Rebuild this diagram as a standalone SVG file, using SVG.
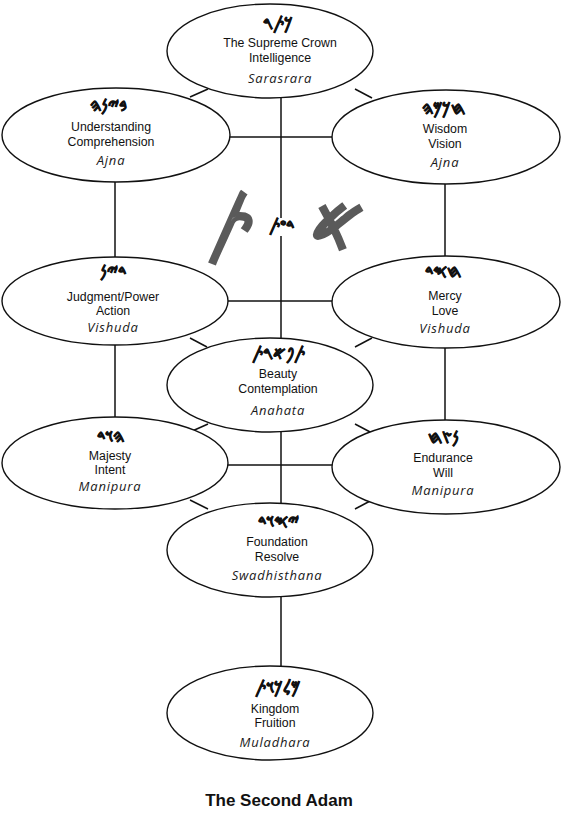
<svg xmlns="http://www.w3.org/2000/svg" width="565" height="816" viewBox="0 0 565 816">
<style>
.node ellipse{fill:#fff;stroke:#111;stroke-width:1.4}
.ph{font-family:"DejaVu Sans",sans-serif;font-size:17px;font-weight:bold;fill:#111;stroke:#111;stroke-width:0.7;text-anchor:middle}
.t{font-family:"Liberation Sans",Arial,sans-serif;font-size:12.3px;fill:#111;text-anchor:middle}
.c{font-family:"Open Sans","Lato",sans-serif;font-style:italic;font-weight:400;font-size:13px;fill:#1a1a1a;text-anchor:middle;letter-spacing:0.8px}
#connectors line{stroke:#111;stroke-width:1.5}
.big{font-family:"DejaVu Sans",sans-serif;font-size:72px;font-weight:bold;fill:#808080;stroke:#5a5a5a;stroke-width:2;text-anchor:middle}
.title{font-family:"Liberation Sans",Arial,sans-serif;font-size:17px;font-weight:bold;fill:#111;text-anchor:middle}
</style>
<rect width="565" height="816" fill="#fff"/>
<g id="connectors">
<line x1="190" y1="97" x2="208" y2="89"/>
<line x1="355" y1="89" x2="372" y2="98"/>
<line x1="228" y1="137" x2="335" y2="137"/>
<line x1="281" y1="96" x2="281" y2="218"/>
<line x1="281" y1="236" x2="281" y2="340"/>
<line x1="115" y1="180" x2="115" y2="259"/>
<line x1="445" y1="182" x2="445" y2="258"/>
<line x1="226" y1="301" x2="334" y2="301"/>
<line x1="190" y1="338" x2="207" y2="347"/>
<line x1="355" y1="347" x2="372" y2="338"/>
<line x1="115" y1="343" x2="115" y2="420"/>
<line x1="445" y1="346" x2="445" y2="422"/>
<line x1="190" y1="432" x2="208" y2="424"/>
<line x1="355" y1="424" x2="372" y2="433"/>
<line x1="226" y1="465" x2="334" y2="465"/>
<line x1="281" y1="430" x2="281" y2="505"/>
<line x1="190" y1="500" x2="208" y2="509"/>
<line x1="355" y1="509" x2="372" y2="500"/>
<line x1="281" y1="595" x2="281" y2="669"/>
</g>
<g id="daat">
<text class="big" x="231" y="248">𐤕</text>
<text class="big" x="337" y="250">𐤀</text>
<text class="ph" x="281" y="231" font-size="15">𐤃𐤏𐤕</text>
</g>
<g id="keter" class="node">
<ellipse cx="270" cy="51" rx="103" ry="47"/>
<text class="ph" x="278" y="29">𐤊𐤕𐤓</text>
<text class="t" x="280" y="47">The Supreme Crown</text>
<text class="t" x="280" y="62">Intelligence</text>
<text class="c" x="280" y="83">Sarasrara</text>
</g>
<g id="binah" class="node">
<ellipse cx="116" cy="135" rx="114" ry="47"/>
<text class="ph" x="108" y="111">𐤁𐤉𐤍𐤄</text>
<text class="t" x="111" y="131">Understanding</text>
<text class="t" x="111" y="146">Comprehension</text>
<text class="c" x="111" y="165">Ajna</text>
</g>
<g id="chokmah" class="node">
<ellipse cx="446" cy="137" rx="114" ry="47"/>
<text class="ph" x="443" y="114">𐤇𐤊𐤌𐤄</text>
<text class="t" x="445" y="133">Wisdom</text>
<text class="t" x="445" y="148">Vision</text>
<text class="c" x="445" y="167">Ajna</text>
</g>
<g id="din" class="node">
<ellipse cx="115" cy="301" rx="113" ry="44"/>
<text class="ph" x="113" y="277">𐤃𐤉𐤍</text>
<text class="t" x="113" y="301">Judgment/Power</text>
<text class="t" x="113" y="315">Action</text>
<text class="c" x="113" y="332">Vishuda</text>
</g>
<g id="chesed" class="node">
<ellipse cx="446" cy="302" rx="114" ry="46"/>
<text class="ph" x="443" y="277">𐤇𐤎𐤃</text>
<text class="t" x="445" y="300">Mercy</text>
<text class="t" x="445" y="315">Love</text>
<text class="c" x="445" y="333">Vishuda</text>
</g>
<g id="tiferet" class="node">
<ellipse cx="270" cy="385" rx="103" ry="47"/>
<text class="ph" x="278" y="359">𐤕𐤐𐤀𐤓𐤕</text>
<text class="t" x="278" y="378">Beauty</text>
<text class="t" x="278" y="393">Contemplation</text>
<text class="c" x="278" y="415">Anahata</text>
</g>
<g id="hod" class="node">
<ellipse cx="115" cy="463" rx="113" ry="46"/>
<text class="ph" x="110" y="442">𐤄𐤅𐤃</text>
<text class="t" x="110" y="460">Majesty</text>
<text class="t" x="110" y="474">Intent</text>
<text class="c" x="110" y="491">Manipura</text>
</g>
<g id="netzach" class="node">
<ellipse cx="446" cy="467" rx="114" ry="47"/>
<text class="ph" x="443" y="443">𐤍𐤑𐤇</text>
<text class="t" x="443" y="462">Endurance</text>
<text class="t" x="443" y="477">Will</text>
<text class="c" x="443" y="495">Manipura</text>
</g>
<g id="yesod" class="node">
<ellipse cx="270" cy="550" rx="103" ry="47"/>
<text class="ph" x="278" y="527">𐤉𐤎𐤅𐤃</text>
<text class="t" x="277" y="546">Foundation</text>
<text class="t" x="277" y="561">Resolve</text>
<text class="c" x="277" y="580">Swadhisthana</text>
</g>
<g id="malkuth" class="node">
<ellipse cx="270" cy="713" rx="103" ry="47"/>
<text class="ph" x="277" y="693">𐤌𐤋𐤊𐤅𐤕</text>
<text class="t" x="275" y="713">Kingdom</text>
<text class="t" x="275" y="727">Fruition</text>
<text class="c" x="275" y="747">Muladhara</text>
</g>
<text class="title" x="279" y="806">The Second Adam</text>
</svg>
